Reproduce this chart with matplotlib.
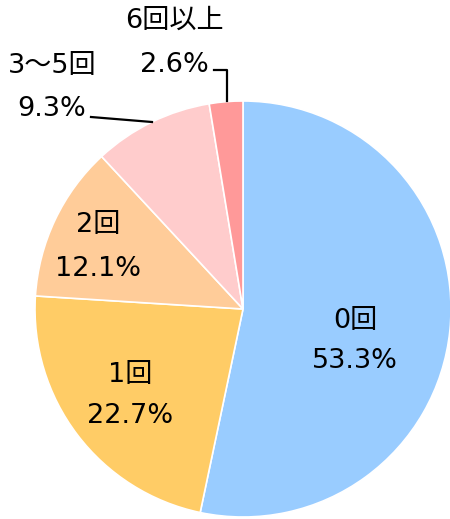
import matplotlib
matplotlib.use("Agg")
import matplotlib.pyplot as plt

plt.rcParams['font.family'] = ['DejaVu Sans', 'Noto Sans CJK JP']

categories = ["0回", "1回", "2回", "3～5回", "6回以上"]
shares = [53.3, 22.7, 12.1, 9.3, 2.6]
colors = ["#99CCFF", "#FFCC66", "#FFCC99", "#FFCCCC", "#FF9999"]

# label positions in pixel space: x, y of name line, y of value line (from top)
label_x = [355, 130, 98, 52, 174]
name_y = [321, 375, 225, 66, 21]
value_y = [361, 416, 269, 109, 65]

W, H = 450, 519
fig = plt.figure(figsize=(W / 100, H / 100), dpi=100)
ax = fig.add_axes([0, 0, 1, 1])

ax.pie(shares, colors=colors, startangle=90, counterclock=False,
       center=(243, H - 309), radius=208,
       wedgeprops=dict(edgecolor="white", linewidth=1.2))
ax.set_xlim(0, W)
ax.set_ylim(0, H)
ax.set_aspect("equal")
ax.axis("off")

for cat, val, x, y1, y2 in zip(categories, shares, label_x, name_y, value_y):
    ax.text(x, H - y1, cat, ha="center", va="center", fontsize=19.5, color="black")
    ax.text(x, H - y2, f"{val:.1f}%", ha="center", va="center", fontsize=19.5, color="black")

# leader lines
ax.plot([214, 227, 227], [H - 70, H - 70, H - 101], color="black", lw=1.6)
ax.plot([91, 152], [H - 117, H - 122], color="black", lw=1.6)

fig.savefig("out.png", dpi=100)
